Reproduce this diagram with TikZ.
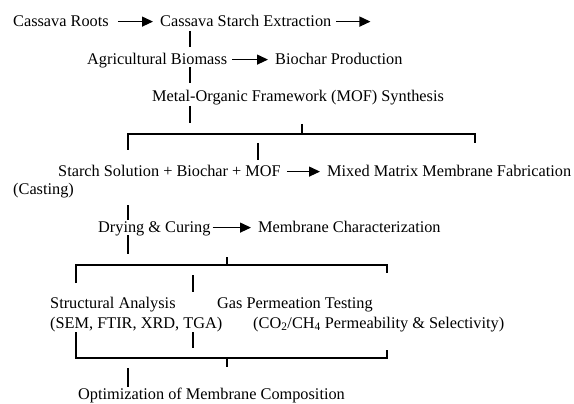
\documentclass[tikz,border=0pt]{standalone}
\usepackage{fontspec}
\setmainfont{Liberation Serif}
\usetikzlibrary{arrows.meta}
\tikzset{arr/.style={-{Triangle[length=11pt,width=10pt]},line width=1.2pt,shorten <=5pt,shorten >=7pt},
  stroke/.style={line width=1.2pt},
  lbl/.style={anchor=base west,inner sep=0pt,text height=10.8pt,text depth=0pt,font=\fontsize{16.3}{19.5}\selectfont}}

\begin{document}
\begin{tikzpicture}[x=1pt,y=-1pt]
\useasboundingbox (0,0) rectangle (574,404);
\node[lbl] (roots) at (13,27) {Cassava Roots};
\node[lbl] (starch) at (160,27) {Cassava Starch Extraction};
\node[lbl] (biomass) at (87,65) {Agricultural Biomass};
\node[lbl] (biochar) at (275,65) {Biochar Production};
\node[lbl] (mof) at (152,102) {Metal-Organic Framework (MOF) Synthesis};
\node[lbl] (blend) at (58,177) {Starch Solution + Biochar + MOF};
\node[lbl] (mmm) at (327,177) {Mixed Matrix Membrane Fabrication};
\node[lbl] (casting) at (13,194) {(Casting)};
\node[lbl] (drying) at (98,233) {Drying \& Curing};
\node[lbl] (charac) at (258,233) {Membrane Characterization};
\node[lbl] (struct) at (50,308) {Structural Analysis};
\node[lbl] (structsub) at (50,328) {(SEM, FTIR, XRD, TGA)};
\node[lbl] (gas) at (217,308) {Gas Permeation Testing};
\node[lbl] (gassub) at (253,328) {(CO\textsubscript{2}/CH\textsubscript{4} Permeability \& Selectivity)};
\node[lbl] (optim) at (78,399) {Optimization of Membrane Composition};
\path (starch.east) ++(46,0) coordinate (extout);
% bracket corners
\coordinate (topL) at (128,134);
\coordinate (topR) at (475,134);
\coordinate (midL) at (76,265);
\coordinate (midR) at (387,265);
\coordinate (botL) at (76,358);
\coordinate (botR) at (387,358);
\draw[arr,shorten <=9pt] (roots) -- (starch);
\draw[arr] (starch) -- (extout);
\draw[arr] (biomass) -- (biochar);
\draw[arr,shorten <=6pt] (blend) -- (mmm);
\draw[arr,shorten <=2pt] (drying) -- (charac);
\draw[stroke] (190,31) -- (190,47);
\draw[stroke] (190,67) -- (190,83);
\draw[stroke] (190,106) -- (190,123);
\draw[stroke] (302,124) -- (302,134);
\draw[stroke] (128,150) -- (topL) -- (topR) -- (475,143);
\draw[stroke] (258,143) -- (258,160);
\draw[stroke] (128,205) -- (128,220);
\draw[stroke] (128,235) -- (128,254);
\draw[stroke] (227,257) -- (227,265);
\draw[stroke] (76,283) -- (midL) -- (midR) -- (387,273);
\draw[stroke] (193,275) -- (193,292);
\draw[stroke] (76,332) -- (botL) -- (botR) -- (387,350);
\draw[stroke] (193,332) -- (193,348);
\draw[stroke] (227,358) -- (227,367);
\draw[stroke] (128,368) -- (128,387);
\end{tikzpicture}
\end{document}
